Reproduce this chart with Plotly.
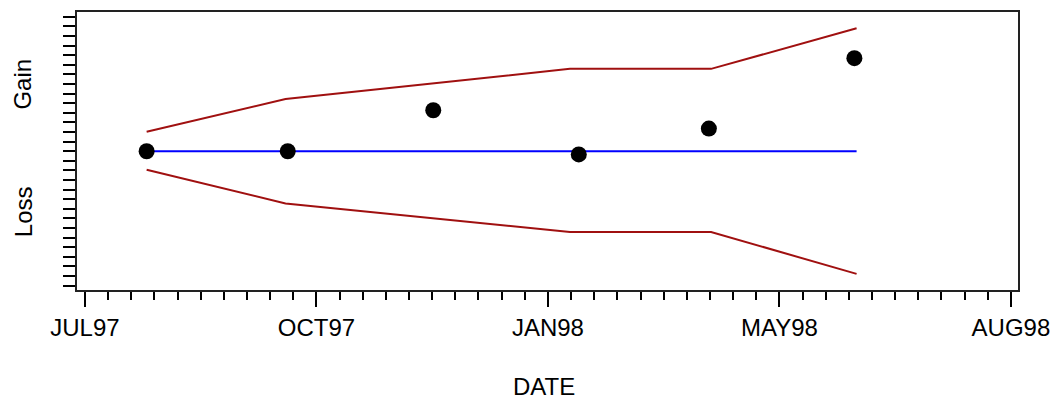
import plotly.graph_objects as go

# Observed points
point_dates = ["1997-07-29", "1997-10-01", "1997-12-06", "1998-02-10", "1998-04-10", "1998-06-15"]
point_values = [0.0, 0.0, 4.27, -0.33, 2.36, 9.69]

# Control band
band_dates = ["1997-07-29", "1997-09-30", "1998-02-06", "1998-04-11", "1998-06-16"]
upper_values = [2.02, 5.44, 8.58, 8.58, 12.8]
lower_values = [-1.92, -5.44, -8.41, -8.41, -12.77]

# Center line
center_dates = ["1997-07-29", "1998-06-16"]
center_values = [0.0, 0.0]

# Axis ticks
tick_dates = ["1997-07-01", "1997-10-14", "1998-01-27", "1998-05-12", "1998-08-25"]
tick_labels = ["JUL97", "OCT97", "JAN98", "MAY98", "AUG98"]

RED = "#A01010"
FONT = "Liberation Sans"

fig = go.Figure()
fig.add_trace(go.Scatter(x=band_dates, y=upper_values, mode="lines",
                         line=dict(color=RED, width=2), hoverinfo="skip"))
fig.add_trace(go.Scatter(x=band_dates, y=lower_values, mode="lines",
                         line=dict(color=RED, width=2), hoverinfo="skip"))
fig.add_trace(go.Scatter(x=center_dates, y=center_values, mode="lines",
                         line=dict(color="#0000FF", width=2), hoverinfo="skip"))
fig.add_trace(go.Scatter(x=point_dates, y=point_values, mode="markers",
                         marker=dict(color="black", size=16)))

fig.update_layout(
    width=1060, height=400,
    margin=dict(l=77, r=38, t=10, b=110),
    paper_bgcolor="white", plot_bgcolor="white",
    showlegend=False,
    font=dict(family=FONT, color="black"),
)
fig.update_xaxes(
    type="date",
    range=["1997-06-27 10:00", "1998-08-28 05:00"],
    tickmode="array", tickvals=tick_dates, ticktext=tick_labels,
    ticks="outside", ticklen=15, tickwidth=1.5, tickcolor="black",
    tickfont=dict(size=24, family=FONT, color="black"),
    minor=dict(ticks="outside", ticklen=8, tickwidth=1.5, tickcolor="black",
               tickmode="linear", tick0="1997-07-01", dtick=10.5 * 86400000),
    showline=True, linecolor="#222", linewidth=2, mirror=True,
    showgrid=False, zeroline=False,
)
fig.update_yaxes(
    range=[-14.45, 14.5],
    tickmode="linear", tick0=0, dtick=1,
    ticks="outside", ticklen=12, tickwidth=1.5, tickcolor="black",
    showticklabels=False,
    showline=True, linecolor="#222", linewidth=2, mirror=True,
    showgrid=False, zeroline=False,
)
fig.add_annotation(text="DATE", xref="paper", yref="paper", x=0.4963, y=0,
                   xanchor="center", yanchor="middle", yshift=-96, showarrow=False,
                   font=dict(size=24, family=FONT, color="black"))
fig.add_annotation(text="Gain", xref="paper", yref="paper", x=0, y=0.739,
                   xanchor="center", yanchor="middle", xshift=-54, textangle=-90,
                   showarrow=False, font=dict(size=24, family=FONT, color="black"))
fig.add_annotation(text="Loss", xref="paper", yref="paper", x=0, y=0.28,
                   xanchor="center", yanchor="middle", xshift=-54, textangle=-90,
                   showarrow=False, font=dict(size=24, family=FONT, color="black"))

fig.write_html("out.html", config={"displayModeBar": False},
               post_script="document.body.style.margin='0';")
